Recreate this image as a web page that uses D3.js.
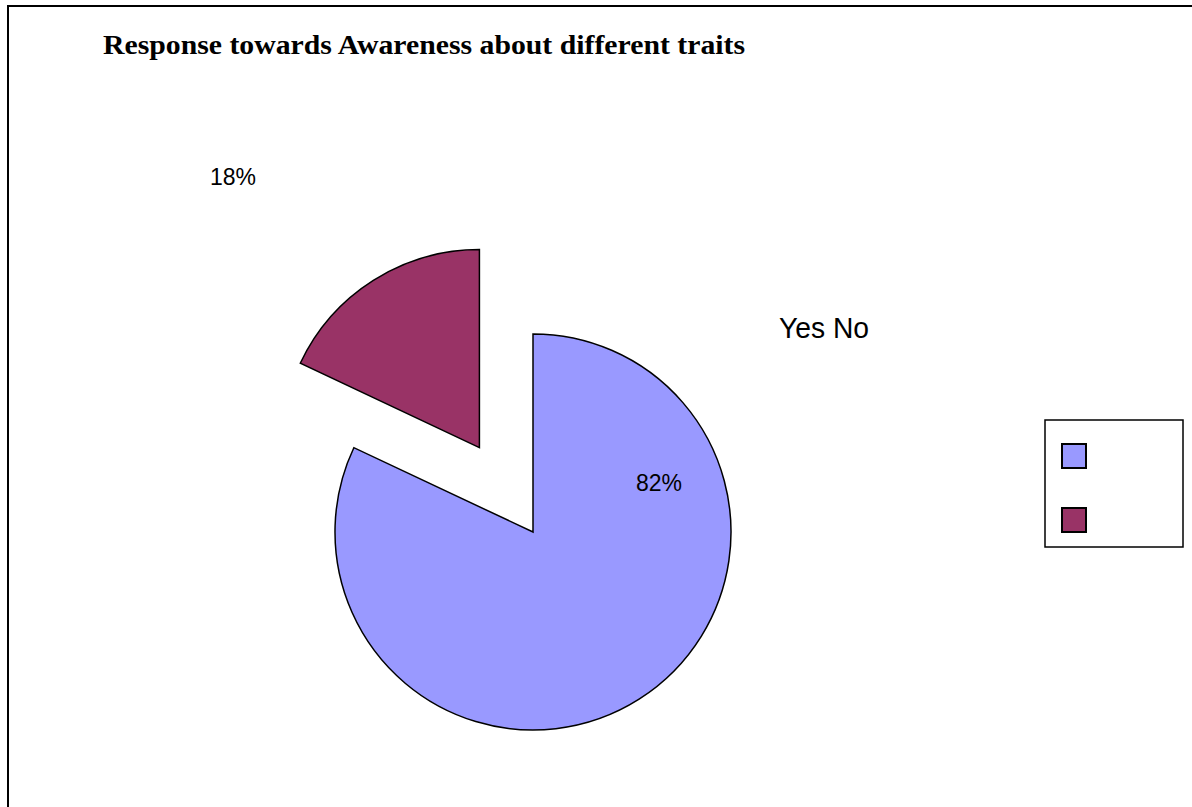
<!DOCTYPE html>
<html>
<head>
<meta charset="utf-8">
<script src="https://cdn.jsdelivr.net/npm/d3@7"></script>
<style>
  html, body { margin: 0; padding: 0; background: #fff; }
  svg { display: block; }
</style>
</head>
<body>
<script>
// Survey answers and their shares (percent)
const categories = ["Yes", "No"];
const values = [82, 18];
const colors = ["#9999FF", "#993366"];
const titleText = "Response towards Awareness about different traits";
const legendText = categories.join(" ");

const W = 1192, H = 807;
const svg = d3.select("body").append("svg")
  .attr("width", W).attr("height", H);

// chart frame
svg.append("rect")
  .attr("x", 8).attr("y", 6).attr("width", W + 10).attr("height", H + 10)
  .attr("fill", "#fff").attr("stroke", "#000").attr("stroke-width", 2);

// title
svg.append("text")
  .attr("x", 103).attr("y", 54)
  .attr("font-family", "Liberation Serif, Times New Roman, serif")
  .attr("font-weight", "bold")
  .attr("font-size", 28)
  .attr("textLength", 642)
  .attr("lengthAdjust", "spacingAndGlyphs")
  .attr("fill", "#000")
  .text(titleText);

// pie
const cx = 533, cy = 532, R = 198, explode = 100;
const pie = d3.pie().sort(null).value(d => d)(values);
const arc = d3.arc().innerRadius(0).outerRadius(R);

const g = svg.append("g").attr("transform", `translate(${cx},${cy})`);

g.selectAll("path.slice")
  .data(pie)
  .enter().append("path")
  .attr("class", "slice")
  .attr("d", arc)
  .attr("fill", (d, i) => colors[i])
  .attr("stroke", "#000")
  .attr("stroke-width", 1.5)
  .attr("stroke-linejoin", "miter")
  .attr("transform", (d, i) => {
    if (i !== 1) return null;
    const a = (d.startAngle + d.endAngle) / 2;
    return `translate(${explode * Math.sin(a)},${-explode * Math.cos(a)})`;
  });

// percentage labels
const labelPos = [[659, 491], [233, 185]];
const total = d3.sum(values);
svg.selectAll("text.pct")
  .data(pie)
  .enter().append("text")
  .attr("class", "pct")
  .attr("x", (d, i) => labelPos[i][0])
  .attr("y", (d, i) => labelPos[i][1])
  .attr("text-anchor", "middle")
  .attr("font-family", "Liberation Sans, Arial, sans-serif")
  .attr("font-size", 23)
  .attr("fill", "#000")
  .text(d => Math.round(d.data / total * 100) + "%");

// series names
svg.append("text")
  .attr("x", 779).attr("y", 338)
  .attr("font-family", "Liberation Sans, Arial, sans-serif")
  .attr("font-size", 30)
  .attr("textLength", 90)
  .attr("lengthAdjust", "spacingAndGlyphs")
  .attr("fill", "#000")
  .text(legendText);

// legend box
svg.append("rect")
  .attr("x", 1045).attr("y", 420).attr("width", 138).attr("height", 127)
  .attr("fill", "#fff").attr("stroke", "#000").attr("stroke-width", 1.5);

svg.selectAll("rect.key")
  .data(categories)
  .enter().append("rect")
  .attr("class", "key")
  .attr("x", 1062)
  .attr("y", (d, i) => 444 + i * 64)
  .attr("width", 24).attr("height", 24)
  .attr("fill", (d, i) => colors[i])
  .attr("stroke", "#000").attr("stroke-width", 2);
</script>
</body>
</html>
